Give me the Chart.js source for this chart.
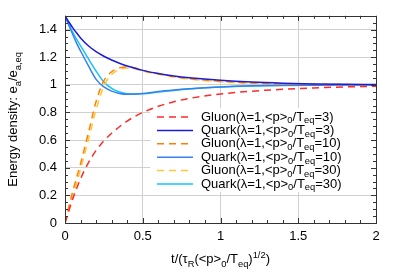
<!DOCTYPE html>
<html>
<head>
<meta charset="utf-8">
<script src="https://cdn.jsdelivr.net/npm/chart.js@4/dist/chart.umd.min.js"></script>
<style>
  body { margin: 0; background: #fff; }
  canvas { display: block; }
</style>
</head>
<body>
<canvas id="myChart" width="399" height="279"></canvas>
<script>
// data
const times = [0, 0.025, 0.05, 0.075, 0.1, 0.15, 0.2, 0.25, 0.3, 0.35, 0.4, 0.45, 0.5, 0.6, 0.7, 0.8, 1.0, 1.2, 1.4, 1.6, 1.8, 2.0];

const gluon3 = [0, 0.09, 0.175, 0.25, 0.32, 0.435, 0.525, 0.595, 0.65, 0.697, 0.738, 0.772, 0.80, 0.845, 0.878, 0.902, 0.934, 0.954, 0.968, 0.978, 0.985, 0.99];
const quark3 = [1.5, 1.455, 1.413, 1.375, 1.34, 1.283, 1.24, 1.207, 1.18, 1.157, 1.137, 1.12, 1.105, 1.082, 1.065, 1.052, 1.033, 1.02, 1.012, 1.007, 1.004, 1.002];
const gluon10 = [0, 0.12, 0.23, 0.33, 0.43, 0.65, 0.88, 1.03, 1.095, 1.123, 1.13, 1.122, 1.105, 1.08, 1.06, 1.045, 1.026, 1.014, 1.008, 1.004, 1.002, 1.001];
const quark10 = [1.5, 1.43, 1.365, 1.30, 1.245, 1.14, 1.04, 0.985, 0.955, 0.938, 0.932, 0.933, 0.937, 0.952, 0.963, 0.972, 0.985, 0.993, 0.997, 0.998, 0.999, 1.0];
const gluon30 = [0, 0.09, 0.19, 0.29, 0.39, 0.60, 0.82, 0.99, 1.075, 1.11, 1.122, 1.117, 1.10, 1.076, 1.056, 1.042, 1.023, 1.012, 1.006, 1.003, 1.001, 1.0];
const quark30 = [1.5, 1.44, 1.38, 1.33, 1.283, 1.19, 1.10, 1.02, 0.975, 0.948, 0.935, 0.933, 0.936, 0.948, 0.96, 0.97, 0.984, 0.992, 0.996, 0.998, 0.999, 1.0];

const seriesNames = ["Gluon", "Quark", "Gluon", "Quark", "Gluon", "Quark"];
const seriesTeq = ["3", "3", "10", "10", "30", "30"];
const seriesValues = [gluon3, quark3, gluon10, quark10, gluon30, quark30];
const seriesColors = ["#ff2a2a", "#1c1cd8", "#ff8000", "#3a80ea", "#ffc83a", "#12c4ff"];
const seriesDashed = [true, false, true, false, true, false];

const xTicks = [0, 0.5, 1, 1.5, 2];
const yTicks = [0, 0.2, 0.4, 0.6, 0.8, 1, 1.2, 1.4];

const FONT = "'Liberation Sans', Arial, sans-serif";

const datasets = seriesValues.map((vals, i) => ({
  label: seriesNames[i] + seriesTeq[i],
  data: vals.map((v, j) => ({ x: times[j], y: v })),
  borderColor: seriesColors[i],
  borderWidth: 1.5,
  borderDash: seriesDashed[i] ? [7, 5] : [],
  pointRadius: 0,
  cubicInterpolationMode: "monotone",
  fill: false,
}));

// draw a string made of pieces: [text, mode] where mode is "", "sub" or "sup"
function drawRich(ctx, parts, x, y, size) {
  let cx = x;
  parts.forEach(([t, mode]) => {
    const s = mode ? size * 0.72 : size;
    ctx.font = s + "px " + FONT;
    const dy = mode === "sub" ? size * 0.3 : mode === "sup" ? -size * 0.42 : 0;
    ctx.fillText(t, cx, y + dy);
    cx += ctx.measureText(t).width;
  });
  return cx - x;
}
function richWidth(ctx, parts, size) {
  let w = 0;
  parts.forEach(([t, mode]) => {
    ctx.font = (mode ? size * 0.72 : size) + "px " + FONT;
    w += ctx.measureText(t).width;
  });
  return w;
}

const tickLabel = (v) => String(Math.round(v * 10) / 10);

// key box behind the curves, ticks/border/titles on top
const keyBox = {
  id: "keyBox",
  beforeDatasetsDraw(chart) {
    const { ctx, chartArea } = chart;
    ctx.save();
    ctx.fillStyle = "#fff";
    ctx.fillRect(150, 108, chartArea.right - 150, 84);
    ctx.restore();
  },
  afterDatasetsDraw(chart) {
    const { ctx, chartArea: { left, right, top, bottom } } = chart;
    const xs = chart.scales.x, ys = chart.scales.y;
    ctx.save();

    // legend entries
    ctx.textBaseline = "middle";
    ctx.fillStyle = "#000";
    seriesNames.forEach((name, i) => {
      const yy = 117 + i * 13.4;
      ctx.beginPath();
      ctx.strokeStyle = seriesColors[i];
      ctx.lineWidth = 1.5;
      ctx.setLineDash(seriesDashed[i] ? [7, 5] : []);
      ctx.moveTo(157, yy);
      ctx.lineTo(193, yy);
      ctx.stroke();
      ctx.setLineDash([]);
      drawRich(ctx, [[name + "(\u03bb=1,<p>", ""], ["0", "sub"], ["/T", ""], ["eq", "sub"], ["=" + seriesTeq[i] + ")", ""]], 201, yy, 13);
    });

    // border
    ctx.strokeStyle = "#333";
    ctx.lineWidth = 1;
    ctx.strokeRect(Math.round(left) + 0.5, Math.round(top) + 0.5, Math.round(right - left), Math.round(bottom - top));

    // major and minor ticks, mirrored
    ctx.beginPath();
    for (let i = 0; i <= 20; i++) {
      const px = Math.round(xs.getPixelForValue(i * 0.1)) + 0.5;
      const len = i % 5 === 0 ? 5 : 3;
      ctx.moveTo(px, bottom); ctx.lineTo(px, bottom - len);
      ctx.moveTo(px, top); ctx.lineTo(px, top + len);
    }
    for (let i = 0; i <= 30; i++) {
      const py = Math.round(ys.getPixelForValue(i * 0.05)) + 0.5;
      const len = i % 4 === 0 ? 5 : 3;
      ctx.moveTo(left, py); ctx.lineTo(left + len, py);
      ctx.moveTo(right, py); ctx.lineTo(right - len, py);
    }
    ctx.stroke();

    // axis titles
    ctx.fillStyle = "#000";
    ctx.textBaseline = "alphabetic";
    const xt = [["t/(\u03c4", ""], ["R", "sub"], ["(<p>", ""], ["0", "sub"], ["/T", ""], ["eq", "sub"], [")", ""], ["1/2", "sup"], [")", ""]];
    const xw = richWidth(ctx, xt, 13);
    drawRich(ctx, xt, (left + right) / 2 - xw / 2, 263, 13);

    const yt = [["Energy density: e", ""], ["a", "sub"], ["/e", ""], ["a,eq", "sub"]];
    const yw = richWidth(ctx, yt, 13);
    ctx.translate(17, (top + bottom) / 2);
    ctx.rotate(-Math.PI / 2);
    drawRich(ctx, yt, -yw / 2, 0, 13);
    ctx.restore();
  },
};

const config = {
  type: "line",
  data: { datasets: datasets },
  options: {
    responsive: false,
    animation: false,
    layout: { padding: { top: 13, right: 23, left: 0, bottom: 0 } },
    plugins: {
      legend: { display: false },
      tooltip: { enabled: false },
    },
    scales: {
      x: {
        type: "linear",
        min: 0,
        max: 2,
        afterFit: (s) => { s.height = 56; },
        afterBuildTicks: (s) => { s.ticks = xTicks.map((v) => ({ value: v })); },
        ticks: { color: "#000", font: { family: FONT, size: 13 }, padding: 6, maxRotation: 0, callback: tickLabel },
        grid: { color: "#d0d0d0", drawTicks: false },
        border: { display: false },
      },
      y: {
        type: "linear",
        min: 0,
        max: 1.5,
        afterFit: (s) => { s.width = 65; },
        afterBuildTicks: (s) => { s.ticks = yTicks.map((v) => ({ value: v })); },
        ticks: { color: "#000", font: { family: FONT, size: 13 }, padding: 8, callback: tickLabel },
        grid: { color: "#d0d0d0", drawTicks: false },
        border: { display: false },
      },
    },
  },
  plugins: [keyBox],
};

const myChart = new Chart(document.getElementById("myChart"), config);
</script>
</body>
</html>
